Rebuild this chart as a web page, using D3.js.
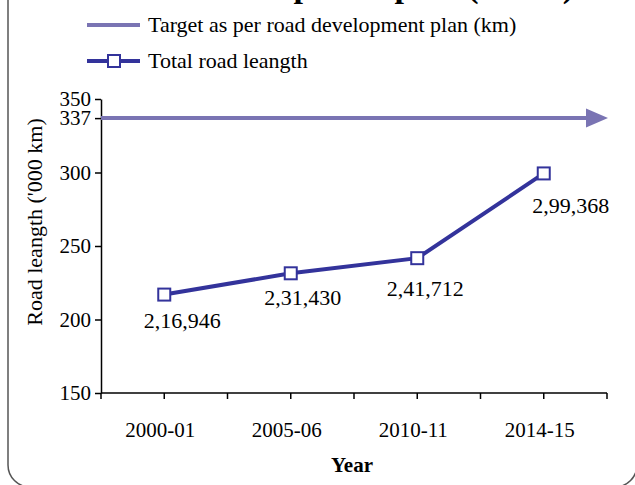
<!DOCTYPE html>
<html><head><meta charset="utf-8">
<script src="https://cdn.jsdelivr.net/npm/d3@7"></script>
<style>body{margin:0;background:#fff}svg{display:block}text{font-family:"Liberation Serif","Times New Roman",serif;fill:#000}</style>
</head><body><svg id="c" width="635" height="485"></svg>
<script>
const categories = ["2000-01","2005-06","2010-11","2014-15"];
const totalRoad = [216.946, 231.430, 241.712, 299.368];
const dataLabels = ["2,16,946","2,31,430","2,41,712","2,99,368"];
const target = 337;
const yTicks = [150, 200, 250, 300, 337, 350];
const legendLabels = ["Target as per road development plan (km)", "Total road leangth"];
const titleText = "Road development plan (in km)";
const labelOffsets = [[18,33],[12,32],[8,38],[27,40]];

const svg = d3.select("#c");
const lineColor = "#33339b", targetColor = "#7a74b3";

// frame
svg.append("rect").attr("x",8).attr("y",-60).attr("width",629).attr("height",547)
  .attr("rx",22).attr("fill","none").attr("stroke","#555").attr("stroke-width",1.5);

// title (mostly cut off at the top, as in the original)
svg.append("text").attr("x",115).attr("y",-3).attr("font-weight","bold").attr("font-size",34).text(titleText);

const x = d3.scaleBand().domain(categories).range([101,607]);
const y = d3.scaleLinear().domain([150,350]).range([393,99]);

// y axis
const ya = svg.append("g").attr("transform","translate(101,0)")
  .call(d3.axisLeft(y).tickValues(yTicks).tickSize(6).tickPadding(4).tickSizeOuter(0));
ya.select(".domain").attr("stroke","#000").attr("stroke-width",1.5);
ya.selectAll(".tick line").attr("stroke","#000").attr("stroke-width",1.5);
ya.selectAll(".tick text").attr("font-size",21).attr("font-family","Liberation Serif").attr("fill","#000");

// x axis with ticks at band edges and centers
const xa = svg.append("g").attr("transform","translate(0,393)");
xa.append("line").attr("x1",101).attr("x2",607).attr("stroke","#000").attr("stroke-width",1.5);
const tickPos = [];
categories.forEach(c=>{tickPos.push(x(c)); tickPos.push(x(c)+x.bandwidth()/2);});
tickPos.push(x.range()[1]);
xa.selectAll("line.t").data(tickPos).join("line").attr("class","t")
  .attr("x1",d=>d).attr("x2",d=>d).attr("y1",0).attr("y2",6).attr("stroke","#000").attr("stroke-width",1.5);
xa.selectAll("text").data(categories).join("text")
  .attr("x",d=>x(d)+x.bandwidth()/2-4).attr("y",44).attr("text-anchor","middle").attr("font-size",21).text(d=>d);

// axis titles
svg.append("text").attr("transform","translate(42,222) rotate(-90)").attr("text-anchor","middle")
  .attr("font-size",22).text("Road leangth ('000 km)");
svg.append("text").attr("x",352).attr("y",472).attr("text-anchor","middle").attr("font-weight","bold")
  .attr("font-size",21).text("Year");

// target arrow
svg.append("line").attr("x1",101).attr("x2",590).attr("y1",y(target)).attr("y2",y(target))
  .attr("stroke",targetColor).attr("stroke-width",4);
svg.append("path").attr("d",`M586,${y(target)-9.5}L608,${y(target)}L586,${y(target)+9.5}Z`).attr("fill",targetColor);

// data line
const cx = d=>x(d)+x.bandwidth()/2;
svg.append("path").datum(totalRoad)
  .attr("d", d3.line().x((d,i)=>cx(categories[i])).y(d=>y(d)))
  .attr("fill","none").attr("stroke",lineColor).attr("stroke-width",4);
svg.selectAll("rect.m").data(totalRoad).join("rect").attr("class","m")
  .attr("x",(d,i)=>cx(categories[i])-6).attr("y",d=>y(d)-6).attr("width",12).attr("height",12)
  .attr("fill","#fff").attr("stroke",lineColor).attr("stroke-width",2);
svg.selectAll("text.dl").data(totalRoad).join("text").attr("class","dl")
  .attr("x",(d,i)=>cx(categories[i])+labelOffsets[i][0]).attr("y",(d,i)=>y(d)+labelOffsets[i][1])
  .attr("text-anchor","middle").attr("font-size",22).text((d,i)=>dataLabels[i]);

// legend
const lg = svg.append("g");
lg.append("line").attr("x1",87).attr("x2",140).attr("y1",25).attr("y2",25).attr("stroke",targetColor).attr("stroke-width",4);
lg.append("text").attr("x",148).attr("y",32).attr("font-size",22).text(legendLabels[0]);
lg.append("line").attr("x1",87).attr("x2",140).attr("y1",61).attr("y2",61).attr("stroke",lineColor).attr("stroke-width",4);
lg.append("rect").attr("x",108).attr("y",55).attr("width",12).attr("height",12).attr("fill","#fff").attr("stroke",lineColor).attr("stroke-width",2);
lg.append("text").attr("x",148).attr("y",68).attr("font-size",22).text(legendLabels[1]);
</script></body></html>
